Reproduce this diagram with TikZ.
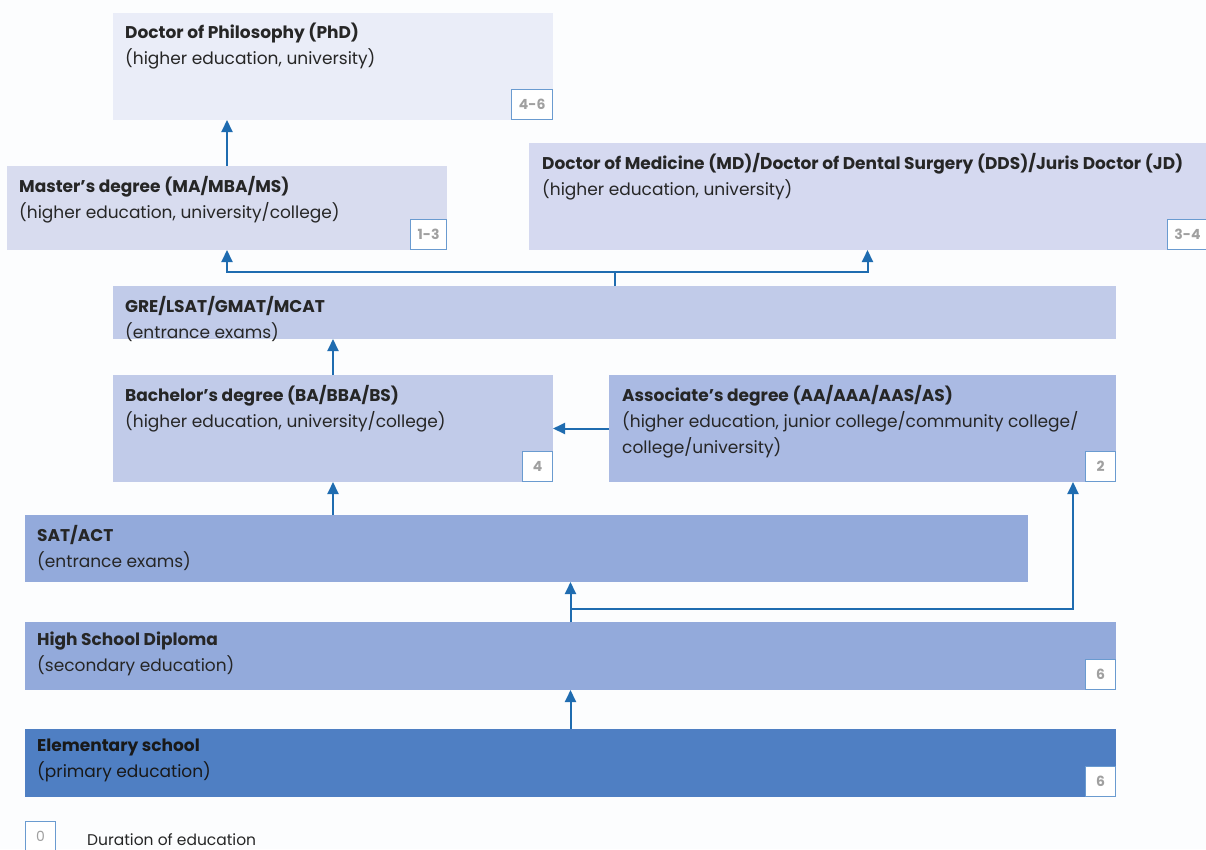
\documentclass[tikz,border=0pt]{standalone}
\usepackage{fontspec}
\setmainfont{Poppins}
\usetikzlibrary{arrows.meta}

\definecolor{azul}{HTML}{1F6CB0}
\definecolor{borde}{HTML}{6A9BD0}
\definecolor{gris}{HTML}{A0A0A0}
\definecolor{fondo}{HTML}{FCFDFE}
\definecolor{nivelA}{HTML}{EAEDF8}
\definecolor{nivelB}{HTML}{D8DCEF}
\definecolor{nivelC}{HTML}{D5D9F0}
\definecolor{nivelD}{HTML}{C1CBE9}
\definecolor{nivelE}{HTML}{AABAE3}
\definecolor{nivelF}{HTML}{93AADB}
\definecolor{nivelG}{HTML}{4F7FC3}

\tikzset{
    caja/.style={anchor=north west, inner sep=0pt, outer sep=0pt},
    texto/.style={anchor=north west, align=left, inner sep=0pt, text=black!85,
        font=\fontsize{17}{26}\selectfont},
    duracion/.style={anchor=south east, draw=borde, line width=1pt, fill=white,
        text=gris, inner xsep=7pt, inner ysep=0pt, minimum width=30pt, minimum height=30pt,
        font=\fontsize{14}{14}\selectfont\bfseries},
    linea/.style={draw=azul, line width=2pt},
    flecha/.style={linea, -{Triangle[width=11pt,length=12pt]}}
}

\begin{document}
\begin{tikzpicture}[x=1pt, y=-1pt]

    % Fondo y margenes
    \fill[fondo] (0,0) rectangle (1206,849);
    \useasboundingbox (0,0) rectangle (1206,849);

    % Cajas de cada nivel
    \node[caja, fill=nivelA, minimum width=440pt, minimum height=107pt] (phd) at (113,13) {};
    \node[caja, fill=nivelB, minimum width=440pt, minimum height=84pt] (master) at (7,166) {};
    \node[caja, fill=nivelC, minimum width=677pt, minimum height=107pt] (md) at (529,143) {};
    \node[caja, fill=nivelD, minimum width=1003pt, minimum height=53pt] (gre) at (113,286) {};
    \node[caja, fill=nivelD, minimum width=440pt, minimum height=107pt] (bach) at (113,375) {};
    \node[caja, fill=nivelE, minimum width=507pt, minimum height=107pt] (asoc) at (609,375) {};
    \node[caja, fill=nivelF, minimum width=1003pt, minimum height=67pt] (sat) at (25,515) {};
    \node[caja, fill=nivelF, minimum width=1091pt, minimum height=68pt] (hs) at (25,622) {};
    \node[caja, fill=nivelG, minimum width=1091pt, minimum height=68pt] (elem) at (25,729) {};

    % Textos
    \node[texto] (phd-t) at ([xshift=12pt,yshift=-10pt]phd.north west)
        {\textbf{Doctor of Philosophy (PhD)}\\(higher education, university)};
    \node[texto] (master-t) at ([xshift=12pt,yshift=-10pt]master.north west)
        {\textbf{Master’s degree (MA/MBA/MS)}\\(higher education, university/college)};
    \node[texto] (md-t) at ([xshift=13pt,yshift=-10pt]md.north west)
        {\textbf{Doctor of Medicine (MD)/Doctor of Dental Surgery (DDS)/Juris Doctor (JD)}\\(higher education, university)};
    \node[texto] (gre-t) at ([xshift=12pt,yshift=-10pt]gre.north west)
        {\textbf{GRE/LSAT/GMAT/MCAT}\\(entrance exams)};
    \node[texto] (bach-t) at ([xshift=12pt,yshift=-10pt]bach.north west)
        {\textbf{Bachelor’s degree (BA/BBA/BS)}\\(higher education, university/college)};
    \node[texto] (asoc-t) at ([xshift=13pt,yshift=-10pt]asoc.north west)
        {\textbf{Associate’s degree (AA/AAA/AAS/AS)}\\(higher education, junior college/community college/\\college/university)};
    \node[texto] (sat-t) at ([xshift=12pt,yshift=-10pt]sat.north west)
        {\textbf{SAT/ACT}\\(entrance exams)};
    \node[texto] (hs-t) at ([xshift=12pt,yshift=-10pt]hs.north west)
        {\textbf{High School Diploma}\\(secondary education)};
    \node[texto, text=black!90] (elem-t) at ([xshift=12pt,yshift=-10pt]elem.north west)
        {\textbf{Elementary school}\\(primary education)};

    % Duracion de cada nivel
    \node[duracion] (phd-d) at (phd.south east) {4-6};
    \node[duracion] (master-d) at (master.south east) {1-3};
    \node[duracion] (md-d) at ([xshift=2pt]md.south east) {3-4};
    \node[duracion] (bach-d) at (bach.south east) {4};
    \node[duracion] (asoc-d) at (asoc.south east) {2};
    \node[duracion] (hs-d) at (hs.south east) {6};
    \node[duracion] (elem-d) at (elem.south east) {6};

    % Flechas
    \draw[flecha] (master.north) -- (master.north |- phd.south);
    \draw[linea] (gre.north) -- ++(0,-14) coordinate (cruce);
    \draw[flecha] (cruce) -| (master.south);
    \draw[flecha] (cruce) -| (md.south);
    \draw[flecha] (bach.north) -- (bach.north |- gre.south);
    \draw[flecha] (asoc.west) -- (asoc.west -| bach.east);
    \draw[flecha] (bach.south |- sat.north) -- (bach.south);
    \draw[flecha] (hs.north) -- (hs.north |- sat.south);
    \coordinate (asoc-in) at ([xshift=-43pt]asoc.south east);
    \draw[linea] (hs.north) -- ++(0,-13) coordinate (rama);
    \draw[flecha] (rama) -| (asoc-in);
    \draw[flecha] (elem.north) -- (elem.north |- hs.south);

    % Leyenda
    \node[duracion, anchor=north west, font=\fontsize{14}{14}\selectfont] (ley-d) at (25,821) {0};
    \node[texto, anchor=base west, font=\fontsize{15.5}{18}\selectfont] (ley-t) at (87,845) {Duration of education};

\end{tikzpicture}
\end{document}
